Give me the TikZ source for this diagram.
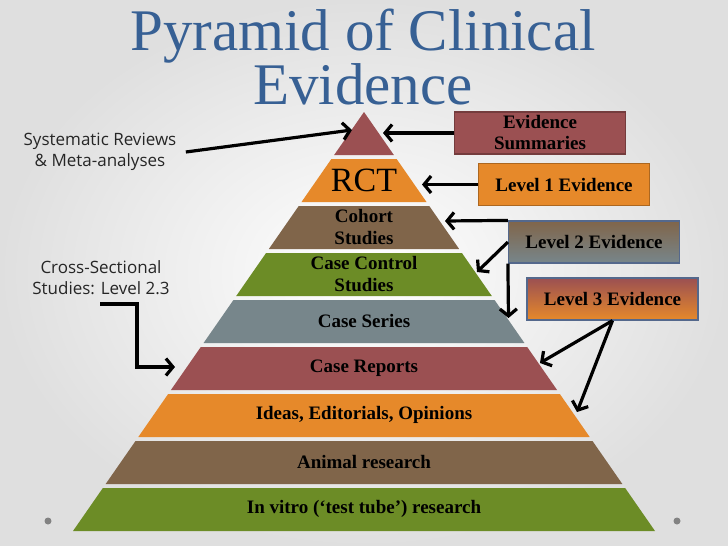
\documentclass[tikz,border=0pt]{standalone}
\usepackage{fontspec}
\setmainfont{Liberation Serif}
\newfontfamily\sidefont{Open Sans}
\usepackage{tikz}
\usetikzlibrary{arrows.meta,positioning,calc}
\definecolor{titleblue}{RGB}{55,96,148}
\definecolor{layermaroon}{RGB}{155,80,82}
\definecolor{layerorange}{RGB}{230,137,42}
\definecolor{layerbrown}{RGB}{128,101,74}
\definecolor{layergreen}{RGB}{108,140,38}
\definecolor{layergrey}{RGB}{119,134,139}
\definecolor{boxedge}{RGB}{84,104,140}
\definecolor{dotgrey}{RGB}{130,130,130}
\tikzset{
  layerlbl/.style={font=\bfseries\fontsize{19}{22}\selectfont,text=black,align=center},
  evbox/.style={draw,line width=1.2pt,minimum width=171pt,minimum height=42pt,inner sep=0pt,
                font=\bfseries\fontsize{19}{21}\selectfont,align=center,text=black},
  sidelbl/.style={font=\sidefont\fontsize{17}{21}\selectfont,text=black!85,align=center},
  pointer/.style={line width=3.2pt,line join=miter,-{Straight Barb[length=7pt,width=17pt]}}
}

\begin{document}
\begin{tikzpicture}[x=1pt,y=-1pt]
  \shade[inner color=white,outer color=gray!25] (0,0) rectangle (728,546);
  \useasboundingbox (0,0) rectangle (728,546);
  % title
  \node[font=\fontsize{59}{52}\selectfont,text=titleblue,align=center,inner sep=0pt] (title) at (363,57)
    {Pyramid of Clinical\\Evidence};
  % pyramid layers, bottom up
  \foreach \k/\col in {0/layergreen,1/layerbrown,2/layerorange,3/layermaroon,
                       4/layergrey,5/layergreen,6/layerbrown,7/layerorange}{
    \pgfmathsetmacro\yb{531-47*\k}
    \pgfmathsetmacro\yt{\yb-43}
    \pgfmathsetmacro\wb{0.6945*(\yb-112)}
    \pgfmathsetmacro\wt{0.6945*(\yt-112)}
    \fill[\col] ({364-\wb},\yb)--({364+\wb},\yb)--({364+\wt},\yt)--({364-\wt},\yt)--cycle;
  }
  \fill[layermaroon] (364,112)--({364+0.6945*43},155)--({364-0.6945*43},155)--cycle;
  \node[layerlbl] (vitro) at (364,509) {In vitro (‘test tube’) research};
  \node[layerlbl] (animal) at (364,462) {Animal research};
  \node[layerlbl] (ideas) at (364,415) {Ideas, Editorials, Opinions};
  \node[layerlbl] (reports) at (364,368) {Case Reports};
  \node[layerlbl] (series) at (364,321) {Case Series};
  \node[layerlbl] (control) at (364,274) {Case Control\\Studies};
  \node[layerlbl] (cohort) at (364,227) {Cohort\\Studies};
  \node[font=\fontsize{34}{36}\selectfont,inner sep=0pt] (rct) at (364,180) {RCT};
  % side labels
  \node[sidelbl] (sysrev) at (100,152) {Systematic Reviews\\\& Meta-analyses};
  \node[sidelbl] (crosssec) at (101,278) {Cross-Sectional\\Studies: Level 2.3};
  % evidence boxes
  \node[evbox,fill=layermaroon,draw=layermaroon!75!black] (summ) at (540,133) {Evidence\\Summaries};
  \node[evbox,fill=layerorange,draw=layerorange!75!black] (lvl1) at (564,184.5) {Level 1 Evidence};
  \node[evbox,top color=layerbrown,middle color=layergreen,bottom color=layergrey,draw=boxedge] (lvl2) at (594,242) {Level 2 Evidence};
  \node[evbox,top color=layermaroon,bottom color=layerorange,draw=boxedge] (lvl3) at (612.5,299) {Level 3 Evidence};
  % arrow ends on the pyramid
  \coordinate (tipSR) at (352,130);
  \coordinate (tipES) at (383,133);
  \coordinate (tipL1) at (422,184.5);
  \coordinate (tipCoh) at (445,221);
  \coordinate (tipCC) at (477,272);
  \coordinate (tipCS) at (508.5,318);
  \coordinate (tipCR) at (540,363);
  \coordinate (tipID) at (577,412);
  \coordinate (xsfoot) at (100,304);
  \coordinate (xsbend) at (137,367);
  \coordinate (tipXS) at (175,367);
  % arrows
  \draw[pointer] ([xshift=6pt]sysrev.east) -- (tipSR);
  \draw[pointer] (summ.west) -- (tipES);
  \draw[pointer] (lvl1.west) -- (tipL1);
  \draw[pointer] (lvl2.north west) -- (tipCoh);
  \draw[pointer] (lvl2.west) -- (tipCC);
  \draw[pointer] (lvl2.south west) -- (tipCS);
  \draw[pointer] (lvl3.south) -- (tipCR);
  \draw[pointer] (lvl3.south) -- (tipID);
  \draw[pointer] (xsfoot) -| (xsbend) -- (tipXS);
  % corner dots
  \fill[dotgrey] (48,521) circle (3.5pt);
  \fill[dotgrey] (677,521) circle (3.5pt);
\end{tikzpicture}
\end{document}
